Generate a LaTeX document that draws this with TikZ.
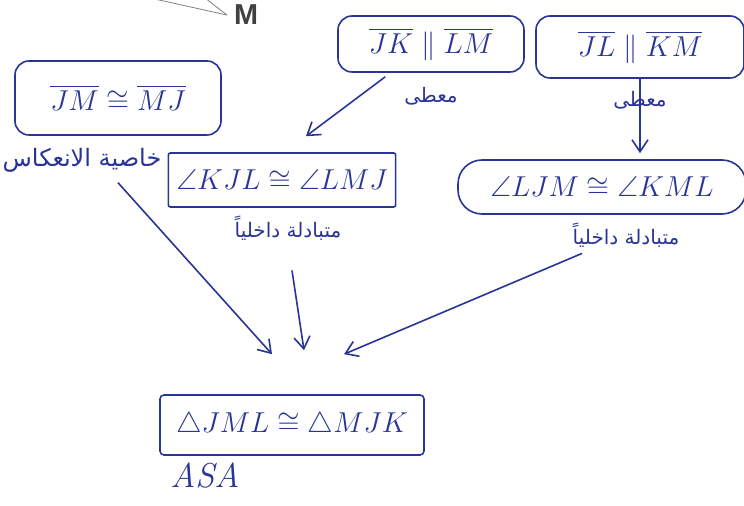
\documentclass[tikz,border=0pt]{standalone}
\usepackage{amsmath,amssymb}
\usepackage{fontspec}
\usepackage{xcolor}
\usepackage{tikz}
\usetikzlibrary{arrows.meta, positioning}
\newfontfamily\arabicfont[Script=Arabic]{DejaVu Sans}
\newfontfamily\labelfont{Liberation Sans}
\TeXXeTstate=1
\definecolor{ink}{RGB}{40,52,150}

\begin{document}
\begin{tikzpicture}[
  x=0.5pt, y=-0.5pt,
  node distance=8pt,
  box/.style={rectangle, rounded corners=7pt, draw=ink, thick, text=ink, font=\Large, inner sep=4pt, align=center},
  reason/.style={text=ink, font=\arabicfont\normalsize, inner sep=1pt},
  arrow/.style={ink, thick, -{Straight Barb[length=6pt, width=8pt]}}
]
\useasboundingbox (0,0) rectangle (744,506);

% part of the figure at the top
\node[text=black!75, font=\labelfont\bfseries\Large] (ptM) at (246,15) {M};
\draw[black!50, thin] (150,-2) -- (ptM.west);
\draw[black!50, thin] (205,-2) -- (ptM.west);

% statements
\node[box, minimum width=103pt, minimum height=37pt] (jm) at (118,98) {$\overline{JM}\cong\overline{MJ}$};
\node[box, minimum width=93pt, minimum height=28pt] (jklm) at (431,44) {$\overline{JK}\parallel\overline{LM}$};
\node[box, minimum width=104pt, minimum height=31pt] (jlkm) at (640,47) {$\overline{JL}\parallel\overline{KM}$};
\node[box, rounded corners=1pt, minimum width=92pt, minimum height=27pt] (kjl) at (282,180) {$\angle KJL\cong\angle LMJ$};
\node[box, rounded corners=12pt, minimum width=144pt, minimum height=27pt] (ljm) at (602,187) {$\angle LJM\cong\angle KML$};
\node[box, rounded corners=2pt, minimum width=132pt, minimum height=30pt] (tri) at (292,425) {$\triangle JML\cong\triangle MJK$};

% reasons
\node[reason, font=\arabicfont\large, below=5pt of jm, xshift=-18pt] (rjm) {\beginR خاصية الانعكاس\endR};
\node[reason, below=6pt of jklm] (rjklm) {\beginR معطى\endR};
\node[reason, below=5pt of jlkm] (rjlkm) {\beginR معطى\endR};
\node[reason, below=3pt of kjl, xshift=3pt] (rkjl) {\beginR متبادلة داخلياً\endR};
\node[reason, below=3pt of ljm, xshift=12pt] (rljm) {\beginR متبادلة داخلياً\endR};
\node[text=ink, font=\LARGE\itshape, below=0pt of tri.south west, anchor=north west, xshift=2pt] (asa) {ASA};

% connectors
\draw[arrow] ([xshift=24pt,yshift=-2pt]jklm.south west) -- ([xshift=12pt,yshift=8pt]kjl.north);
\draw[arrow] (jlkm.south) -- ([yshift=3pt]ljm.north -| jlkm.south);
\draw[arrow] ([xshift=18pt,yshift=-4pt]rjm.south) -- ([xshift=-10pt,yshift=20pt]tri.north);
\draw[arrow] ([xshift=2pt,yshift=-14pt]rkjl.south) -- ([xshift=6pt,yshift=22pt]tri.north);
\draw[arrow] ([xshift=-22pt,yshift=-2pt]rljm.south) -- ([xshift=26pt,yshift=20pt]tri.north);
\end{tikzpicture}
\end{document}
